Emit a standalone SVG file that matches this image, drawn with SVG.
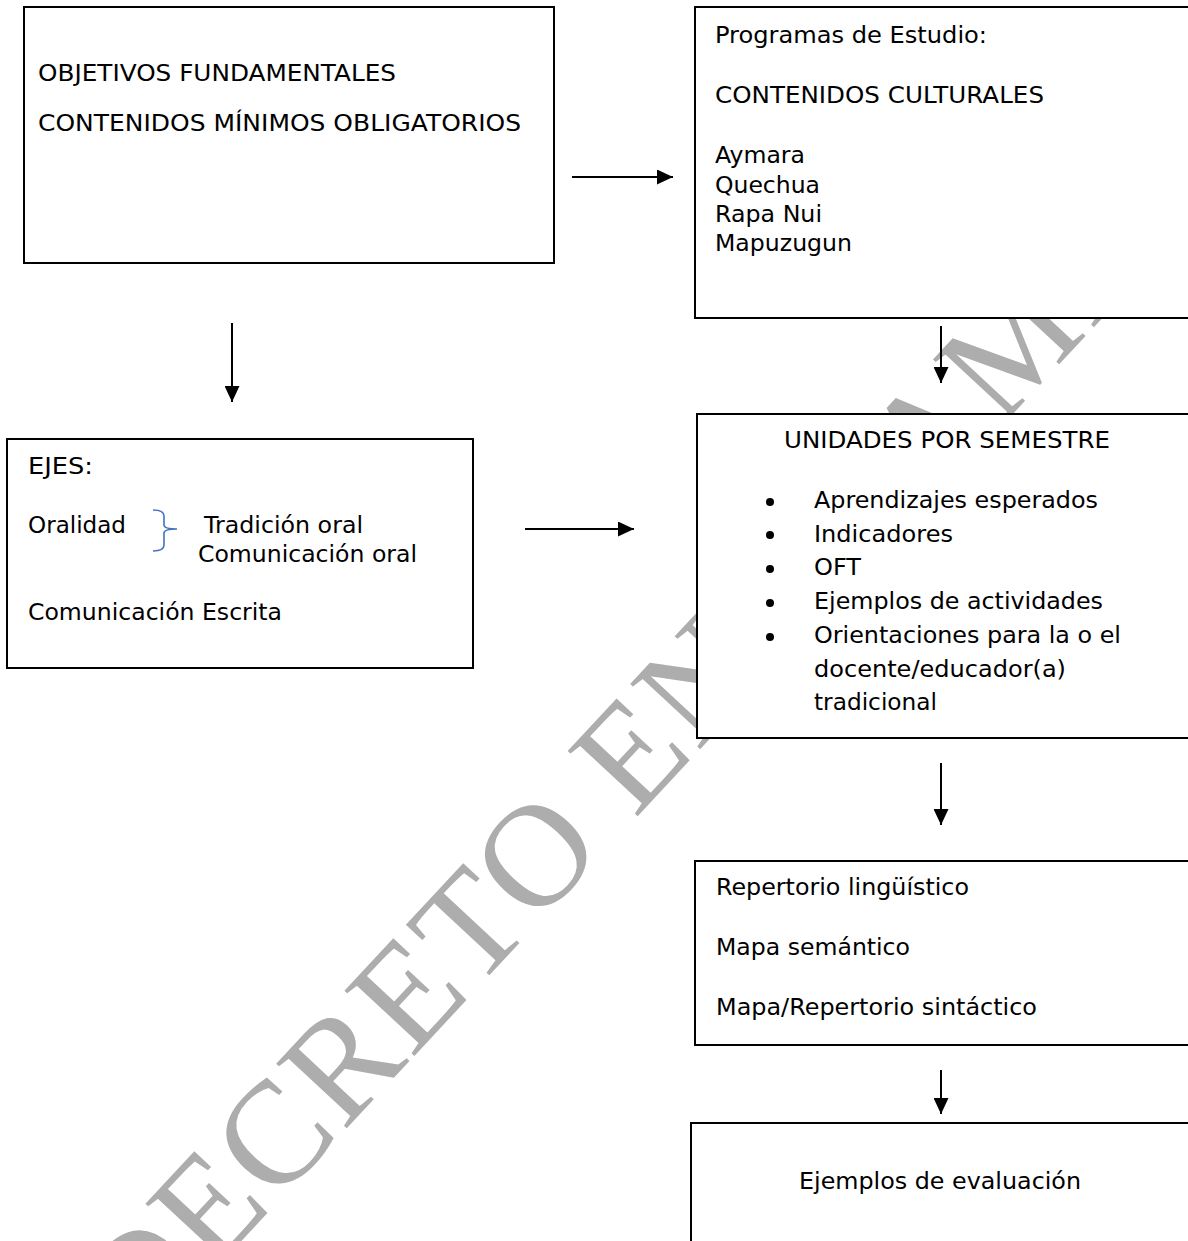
<svg xmlns="http://www.w3.org/2000/svg" width="1188" height="1241" viewBox="0 0 1188 1241">
<defs>
<style>
.box{fill:#fff;stroke:#000;stroke-width:2}
.t{font-family:"DejaVu Sans","Verdana",sans-serif;font-size:23px;fill:#000}
.wm{font-family:"Liberation Serif","Times New Roman",serif;font-size:146px;letter-spacing:2.5px;fill:#adadad}
.con{stroke:#000;stroke-width:2;fill:none;marker-end:url(#ah)}
</style>
<marker id="ah" markerUnits="userSpaceOnUse" markerWidth="16" markerHeight="15" refX="16" refY="7.5" orient="auto">
<path d="M0,0 L16,7.5 L0,15 z" fill="#000"/>
</marker>
</defs>
<rect width="1188" height="1241" fill="#fff"/>
<g id="watermark">
<text class="wm" transform="translate(139,1351) rotate(-47)">DECRETO EN TRAMITE</text>
</g>
<g id="connectors">
<line class="con" x1="572" y1="177" x2="673" y2="177"/>
<line class="con" x1="232" y1="323" x2="232" y2="402"/>
<line class="con" x1="941" y1="326" x2="941" y2="383"/>
<line class="con" x1="525" y1="529" x2="634" y2="529"/>
<line class="con" x1="941" y1="763" x2="941" y2="825"/>
<line class="con" x1="941" y1="1070" x2="941" y2="1114"/>
</g>
<g id="objetivos">
<rect class="box" x="24" y="7" width="530" height="256"/>
<text class="t" x="38" y="81" textLength="358" lengthAdjust="spacingAndGlyphs">OBJETIVOS FUNDAMENTALES</text>
<text class="t" x="38" y="131" textLength="483" lengthAdjust="spacingAndGlyphs">CONTENIDOS MÍNIMOS OBLIGATORIOS</text>
</g>
<g id="programas">
<rect class="box" x="695" y="7" width="520" height="311"/>
<text class="t" x="715" y="43" textLength="272" lengthAdjust="spacingAndGlyphs">Programas de Estudio:</text>
<text class="t" x="715" y="103" textLength="329" lengthAdjust="spacingAndGlyphs">CONTENIDOS CULTURALES</text>
<text class="t" x="715" y="163" textLength="90" lengthAdjust="spacingAndGlyphs">Aymara</text>
<text class="t" x="715" y="193" textLength="105" lengthAdjust="spacingAndGlyphs">Quechua</text>
<text class="t" x="715" y="222" textLength="107" lengthAdjust="spacingAndGlyphs">Rapa Nui</text>
<text class="t" x="715" y="251" textLength="137" lengthAdjust="spacingAndGlyphs">Mapuzugun</text>
</g>
<g id="ejes">
<rect class="box" x="7" y="439" width="466" height="229"/>
<text class="t" x="28" y="474" textLength="65" lengthAdjust="spacingAndGlyphs">EJES:</text>
<text class="t" x="28" y="533" textLength="98" lengthAdjust="spacingAndGlyphs">Oralidad</text>
<path d="M153,510 Q164,510 164,516 L164,525 Q164,529 177,529 Q164,529 164,533 L164,545 Q164,551 153,551" fill="none" stroke="#4472c4" stroke-width="1.6"/>
<text class="t" x="204" y="533" textLength="159" lengthAdjust="spacingAndGlyphs">Tradición oral</text>
<text class="t" x="198" y="562" textLength="219" lengthAdjust="spacingAndGlyphs">Comunicación oral</text>
<text class="t" x="28" y="620" textLength="254" lengthAdjust="spacingAndGlyphs">Comunicación Escrita</text>
</g>
<g id="unidades">
<rect class="box" x="697" y="414" width="520" height="324"/>
<text class="t" x="784" y="448" textLength="326" lengthAdjust="spacingAndGlyphs">UNIDADES POR SEMESTRE</text>
<circle cx="770" cy="502" r="4"/>
<circle cx="770" cy="535" r="4"/>
<circle cx="770" cy="569" r="4"/>
<circle cx="770" cy="603" r="4"/>
<circle cx="770" cy="637" r="4"/>
<text class="t" x="814" y="508" textLength="284" lengthAdjust="spacingAndGlyphs">Aprendizajes esperados</text>
<text class="t" x="814" y="542" textLength="139" lengthAdjust="spacingAndGlyphs">Indicadores</text>
<text class="t" x="814" y="575" textLength="47" lengthAdjust="spacingAndGlyphs">OFT</text>
<text class="t" x="814" y="609" textLength="289" lengthAdjust="spacingAndGlyphs">Ejemplos de actividades</text>
<text class="t" x="814" y="643" textLength="307" lengthAdjust="spacingAndGlyphs">Orientaciones para la o el</text>
<text class="t" x="814" y="677" textLength="252" lengthAdjust="spacingAndGlyphs">docente/educador(a)</text>
<text class="t" x="814" y="710" textLength="123" lengthAdjust="spacingAndGlyphs">tradicional</text>
</g>
<g id="repertorio">
<rect class="box" x="695" y="861" width="520" height="184"/>
<text class="t" x="716" y="895" textLength="253" lengthAdjust="spacingAndGlyphs">Repertorio lingüístico</text>
<text class="t" x="716" y="955" textLength="194" lengthAdjust="spacingAndGlyphs">Mapa semántico</text>
<text class="t" x="716" y="1015" textLength="321" lengthAdjust="spacingAndGlyphs">Mapa/Repertorio sintáctico</text>
</g>
<g id="evaluacion">
<rect class="box" x="691" y="1123" width="525" height="140"/>
<text class="t" x="799" y="1189" textLength="282" lengthAdjust="spacingAndGlyphs">Ejemplos de evaluación</text>
</g>
</svg>
